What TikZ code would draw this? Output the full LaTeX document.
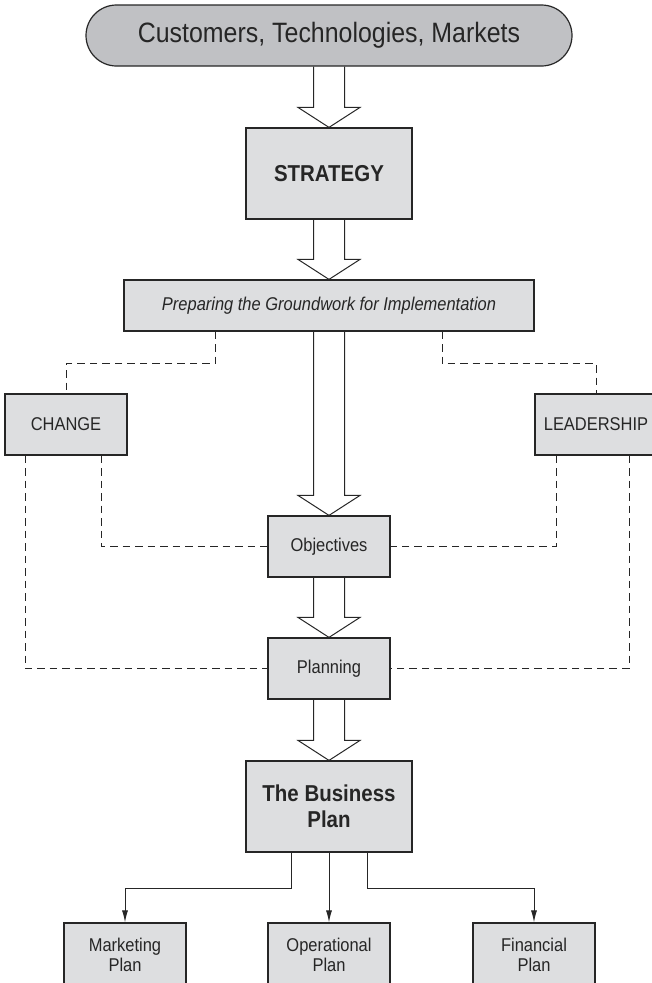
\documentclass[tikz,border=0pt]{standalone}
\usepackage{fontspec}
\setmainfont{Liberation Sans}[FakeStretch=0.89]
\usetikzlibrary{calc,arrows.meta}
\definecolor{pillgray}{RGB}{192,193,196}
\definecolor{boxgray}{RGB}{221,222,224}
\definecolor{inkgray}{RGB}{38,38,38}
\tikzset{
  box/.style={draw=inkgray,line width=1.2pt,fill=boxgray,inner sep=0pt,
    minimum width=122pt,minimum height=61pt,align=center,
    font=\fontsize{18.5}{20}\selectfont,text=inkgray},
  bigbox/.style={box,minimum width=166pt,minimum height=91pt,
    font=\fontsize{23}{26}\selectfont\bfseries},
  pill/.style={box,fill=pillgray,rounded corners=30.5pt,minimum width=486pt,
    font=\fontsize{28}{30}\selectfont},
  fatline/.style={draw=inkgray,line width=1pt,line join=miter},
  link/.style={draw=inkgray,line width=1pt,dash pattern=on 7.5pt off 5pt},
  feed/.style={draw=inkgray,line width=1pt,-{Latex[length=12pt,width=6pt]}}
}
\newcommand{\fatarrow}[2]{% open block arrow from #1 down to #2
\draw[fatline] ($(#1.south)+(-15.5,0)$) -- ($(#2.north)+(-15.5,-20)$) -- ($(#2.north)+(-31,-20)$)
  -- (#2.north) -- ($(#2.north)+(31,-20)$) -- ($(#2.north)+(15.5,-20)$) -- ($(#1.south)+(15.5,0)$);}
\begin{document}
\begin{tikzpicture}[x=1pt,y=-1pt]
\useasboundingbox (0,0) rectangle (651,983);
\node[pill] (ctm) at (329,35.5) {Customers, Technologies, Markets};
\node[bigbox] (strategy) at (329,173.5) {STRATEGY};
\node[box,minimum width=410pt,minimum height=51pt,font=\fontsize{18.5}{20}\selectfont\itshape] (prep) at (329,305.5) {Preparing the Groundwork for Implementation};
\node[box] (change) at (66,424.5) {CHANGE};
\node[box] (lead) at (596,424.5) {LEADERSHIP};
\node[box] (obj) at (329,546.5) {Objectives};
\node[box] (plan) at (329,668.5) {Planning};
\node[bigbox] (bplan) at (329,806.5) {The Business\\Plan};
\node[box,minimum height=64pt] (mkt) at (125,955) {Marketing\\Plan};
\node[box,minimum height=64pt] (ops) at (329,955) {Operational\\Plan};
\node[box,minimum height=64pt] (fin) at (534,955) {Financial\\Plan};
% block arrows down the middle
\foreach \a/\b in {ctm/strategy,strategy/prep,prep/obj,obj/plan,plan/bplan}
  \fatarrow{\a}{\b};
% dashed links
\draw[link] ([xshift=-114]prep.south) -- ++(0,32) -| (change.north);
\draw[link] ([xshift=113]prep.south) -- ++(0,32) -| (lead.north);
\draw[link] ([xshift=35]change.south) |- (obj.west);
\draw[link] ([xshift=-40]lead.south) |- (obj.east);
\draw[link] ([xshift=-41]change.south) |- (plan.west);
\draw[link] ([xshift=33]lead.south) |- (plan.east);
% the three plans
\draw[feed] ([xshift=-38]bplan.south) -- ++(0,36) -| (mkt.north);
\draw[feed] (bplan.south) -- (ops.north);
\draw[feed] ([xshift=38]bplan.south) -- ++(0,36) -| (fin.north);
\end{tikzpicture}
\end{document}
